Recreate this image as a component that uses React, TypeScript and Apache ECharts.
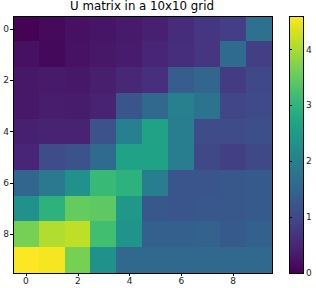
import React, { useEffect, useRef } from "react";
import * as echarts from "echarts";

const title = "U matrix in a 10x10 grid";
const xCategories = ["0", "1", "2", "3", "4", "5", "6", "7", "8", "9"];
const yCategories = ["0", "1", "2", "3", "4", "5", "6", "7", "8", "9"];

const row0 = [0.02, 0.12, 0.2, 0.26, 0.33, 0.4, 0.58, 0.72, 0.84, 1.7];
const row1 = [0.2, 0.1, 0.22, 0.28, 0.34, 0.48, 0.6, 0.7, 1.6, 0.85];
const row2 = [0.28, 0.32, 0.3, 0.38, 0.5, 0.62, 1.35, 1.5, 0.8, 0.98];
const row3 = [0.3, 0.36, 0.35, 0.45, 1.2, 1.55, 2.0, 1.75, 0.95, 1.02];
const row4 = [0.4, 0.45, 0.45, 1.15, 2.0, 2.65, 1.95, 1.05, 1.05, 1.1];
const row5 = [0.48, 1.05, 1.15, 1.6, 2.65, 2.65, 1.95, 1.0, 0.85, 1.0];
const row6 = [1.5, 1.85, 2.3, 3.1, 2.95, 1.95, 1.2, 1.2, 1.25, 1.3];
const row7 = [2.3, 2.95, 3.5, 3.45, 2.45, 1.25, 1.2, 1.25, 1.25, 1.3];
const row8 = [3.65, 4.05, 4.15, 3.2, 2.35, 1.4, 1.4, 1.45, 1.3, 1.4];
const row9 = [4.6, 4.55, 3.65, 2.3, 1.55, 1.55, 1.55, 1.55, 1.55, 1.55];
const rows = [row0, row1, row2, row3, row4, row5, row6, row7, row8, row9];

const colorbarMin = 0;
const colorbarMax = 4.6;
const colorbarTicks = [0, 1, 2, 3, 4];

const viridis = [
  "#440154", "#471365", "#482475", "#463480", "#414487", "#3b528b", "#355f8d",
  "#2f6c8e", "#2a788e", "#25848e", "#21918c", "#1e9c89", "#22a884", "#2fb47c",
  "#44bf70", "#5ec962", "#7ad151", "#9bd93c", "#bddf26", "#dfe318", "#fde725",
];

export default function App() {
  const ref = useRef<HTMLDivElement>(null);
  useEffect(() => {
    if (!ref.current) return;
    const chart = echarts.init(ref.current, undefined, { renderer: "svg" });
    const data: number[][] = [];
    rows.forEach((r, y) => r.forEach((v, x) => data.push([x, y, v])));
    const font = "DejaVu Sans";
    const cbLeft = 289;
    const cbTop = 16;
    const cbWidth = 14;
    const cbHeight = 257;
    const gradient = new echarts.graphic.LinearGradient(
      0, 1, 0, 0,
      viridis.map((c, i) => ({ offset: i / (viridis.length - 1), color: c }))
    );
    chart.setOption({
      animation: false,
      backgroundColor: "#fff",
      textStyle: { fontFamily: font },
      title: {
        text: title,
        left: 142,
        textAlign: "center",
        top: 0,
        padding: 0,
        textStyle: { fontSize: 11.8, fontWeight: "normal", color: "#000", fontFamily: font },
      },
      graphic: [
        {
          type: "rect",
          z: -1,
          shape: { x: cbLeft, y: cbTop, width: cbWidth, height: cbHeight },
          style: { fill: gradient },
          silent: true,
        },
      ],
      grid: [
        { left: 13, top: 16, width: 259, height: 257, show: true, borderColor: "#000", borderWidth: 1, backgroundColor: "transparent", containLabel: false, z: 5 },
        { left: cbLeft, top: cbTop, width: cbWidth, height: cbHeight, show: true, borderColor: "#000", borderWidth: 1, backgroundColor: "transparent", containLabel: false, z: 5 },
      ],
      xAxis: [
        {
          type: "category",
          gridIndex: 0,
          data: xCategories,
          axisLine: { show: true, lineStyle: { color: "#000" } },
          axisTick: { show: true, alignWithLabel: true, interval: 1, length: 3, lineStyle: { color: "#000" } },
          axisLabel: { interval: 1, margin: 3, fontSize: 9, color: "#222", fontFamily: font },
          splitLine: { show: false },
        },
        { type: "value", gridIndex: 1, min: 0, max: 1, show: false },
      ],
      yAxis: [
        {
          type: "category",
          gridIndex: 0,
          inverse: true,
          data: yCategories,
          axisLine: { show: true, lineStyle: { color: "#000" } },
          axisTick: { show: true, alignWithLabel: true, interval: 1, length: 3, lineStyle: { color: "#000" } },
          axisLabel: { interval: 1, margin: 4, fontSize: 9, color: "#222", fontFamily: font },
          splitLine: { show: false },
        },
        {
          type: "value",
          gridIndex: 1,
          min: colorbarMin,
          max: colorbarMax,
          position: "right",
          axisLine: { show: false },
          axisTick: { show: true, length: 3, customValues: colorbarTicks, lineStyle: { color: "#000" } },
          axisLabel: { customValues: colorbarTicks, margin: 3, fontSize: 9, color: "#222", fontFamily: font },
          splitLine: { show: false },
        },
      ],
      visualMap: {
        type: "continuous",
        min: colorbarMin,
        max: colorbarMax,
        seriesIndex: 0,
        dimension: 2,
        show: false,
        inRange: { color: viridis },
      },
      series: [
        {
          type: "heatmap",
          xAxisIndex: 0,
          yAxisIndex: 0,
          data,
          itemStyle: { borderWidth: 0 },
          emphasis: { disabled: true },
        },
        { type: "scatter", xAxisIndex: 1, yAxisIndex: 1, data: [] },
      ],
    });
    return () => chart.dispose();
  }, []);
  return (
    <>
      <style>{"#chart-root svg path { shape-rendering: crispEdges; }"}</style>
      <div id="chart-root" ref={ref} style={{ position: "fixed", left: 0, top: 0, width: 316, height: 288 }} />
    </>
  );
}
